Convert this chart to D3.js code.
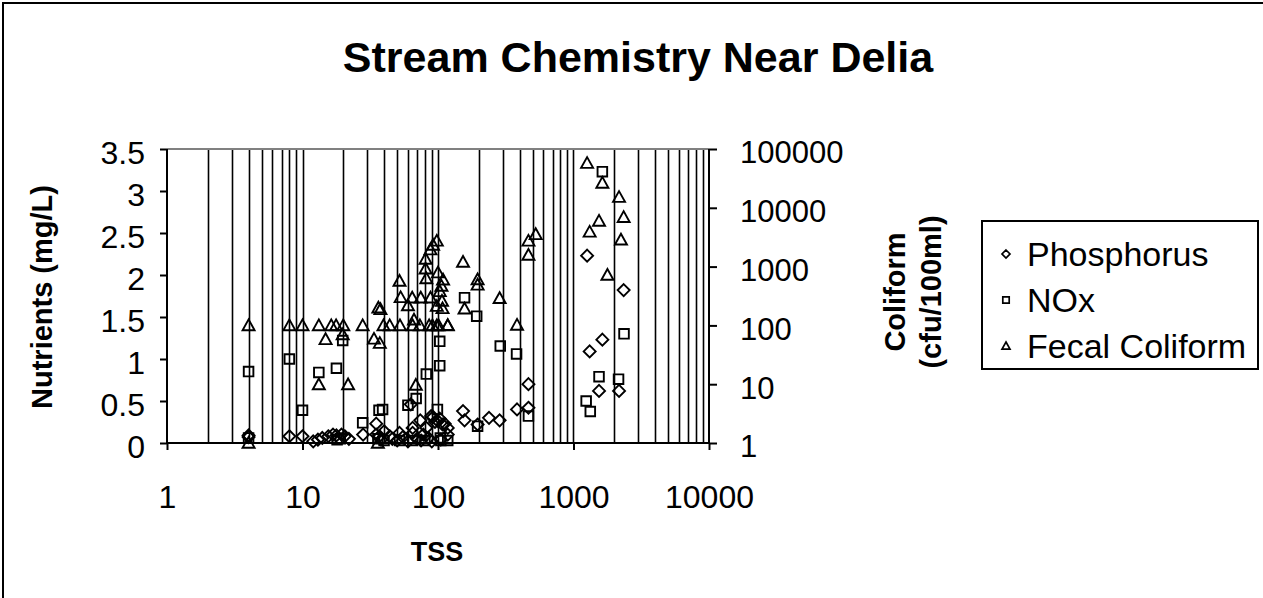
<!DOCTYPE html>
<html><head><meta charset="utf-8">
<script src="https://cdn.jsdelivr.net/npm/d3@7"></script>
<style>
html,body{margin:0;padding:0;background:#fff;}
svg{display:block;font-family:"Liberation Sans",Arial,sans-serif;}
</style></head>
<body>
<svg id="c" width="1263" height="598"></svg>
<script>
// ---- data (TSS, value) ----
const phosphorus = [
 [4,0.07],[4,0.09],[8,0.08],[10,0.08],[12,0.02],[13,0.04],[14,0.06],[15.5,0.08],[16.8,0.10],[17.8,0.09],
 [19.4,0.10],[20.5,0.08],[22,0.05],[28,0.10],[35,0.23],[35,0.10],[37,0.08],[38,0.04],[40,0.14],[44,0.08],
 [46,0.05],[50,0.03],[52,0.12],[55,0.07],[60,0.02],[63,0.46],[65,0.18],[65,0.12],[70,0.05],[74,0.27],
 [75,0.03],[78,0.10],[82,0.18],[85,0.06],[89,0.32],[90,0.02],[92,0.31],[95,0.25],[100,0.26],[103,0.29],
 [105,0.04],[108,0.22],[112,0.23],[118,0.18],[118,0.10],[153,0.38],[157,0.27],[196,0.22],[238,0.30],
 [285,0.27],[383,0.40],[465,0.42],[465,0.70],[1260,2.23],[1316,1.09],[1543,0.62],[1633,1.23],[2168,0.62],[2345,1.82]
];
const nox = [
 [4,0.85],[4,0.06],[8,1.0],[10,0.39],[13.2,0.84],[17.8,0.89],[19.8,1.22],[18,0.04],[19,0.05],[27.8,0.24],
 [36.7,0.39],[39,0.40],[36,0.05],[40,0.03],[52,0.03],[60,0.45],[69,0.53],[65,0.03],[82,0.82],[80,0.03],
 [99,0.40],[103,1.21],[103,0.92],[104,0.06],[105,0.03],[118,0.03],[157,1.73],[193,1.51],[196,0.20],
 [288,1.155],[380,1.06],[465,0.32],[1240,0.50],[1330,0.375],[1543,0.79],[1633,3.23],[2150,0.76],[2360,1.30]
];
const coliform = [
 [4,100],[8,100],[10,100],[13.2,100],[16.3,100],[17.7,100],[20,100],[27.8,100],[39.6,100],[44,100],
 [52.4,100],[65,100],[73.5,100],[86,100],[91,100],[98,100],[101,100],[118,100],
 [14.8,58],[19.8,70],[13.2,9.9],[21.7,9.9],[4,1],[36,1],[33.7,59],[37.2,50],[36.3,200],[37.6,188],
 [68.6,9.7],[52,570],[53,300],[60,218],[64.5,295],[74.6,295],[88,295],[66.5,125],[81,1350],[81,920],
 [82,630],[88,1950],[92,2330],[98,2740],[100,790],[109,600],[106,470],[103,380],[107,260],[108,195],
 [98,213],[153,1200],[157,192],[196,605],[196,490],[118,101],[285,290],[383,102],[465,1580],[465,2740],
 [526,3540],[1260,57600],[1316,3900],[1543,5990],[1633,26500],[1780,720],[2168,15200],[2240,2860],[2345,6940]
];
const leftTicks = [0,0.5,1,1.5,2,2.5,3,3.5];
const rightTicks = [1,10,100,1000,10000,100000];
const xTicks = [1,10,100,1000,10000];
const seriesNames = ["Phosphorus","NOx","Fecal Coliform"];

// ---- layout ----
const svg = d3.select("#c");
const L = 167, R = 709, T = 149, B = 443;
const x = d3.scaleLog().domain([1,10000]).range([L,R]);
const yL = d3.scaleLinear().domain([0,3.5]).range([B,T]);
const yR = d3.scaleLog().domain([1,100000]).range([B,T]);

// outer frame
svg.append("rect").attr("x",3).attr("y",3).attr("width",1400).attr("height",800)
  .attr("fill","none").attr("stroke","#000").attr("stroke-width",2);

// title
svg.append("text").attr("x",638).attr("y",72).attr("text-anchor","middle")
  .attr("font-size",43).attr("font-weight","bold").text("Stream Chemistry Near Delia");

// vertical gridlines at log minor positions
const grid = x.ticks().filter(v => v > 1 && v < 10000);
svg.append("g").selectAll("line").data(grid).join("line")
  .attr("x1",d=>Math.round(x(d))+0.5).attr("x2",d=>Math.round(x(d))+0.5)
  .attr("y1",T).attr("y2",B).attr("stroke","#000").attr("stroke-width",1.6);

// top border of plot
svg.append("line").attr("x1",L).attr("x2",R).attr("y1",T).attr("y2",T)
  .attr("stroke","#808080").attr("stroke-width",2);

// axes
const fmtL = d => d===0?"0":String(d);
const gL = svg.append("g").attr("transform",`translate(${L},0)`)
  .call(d3.axisLeft(yL).tickValues(leftTicks).tickSize(7).tickPadding(15).tickFormat(fmtL));
const gB = svg.append("g").attr("transform",`translate(0,${B})`)
  .call(d3.axisBottom(x).tickValues(xTicks).tickSize(7).tickPadding(35).tickFormat(d3.format("d")));
const gR = svg.append("g").attr("transform",`translate(${R},0)`)
  .call(d3.axisRight(yR).tickValues(rightTicks).tickSize(8).tickPadding(23).tickFormat(d3.format("d")));
[gL,gB,gR].forEach(g=>{
  g.select(".domain").attr("stroke","#000").attr("stroke-width",2);
  g.selectAll(".tick line").attr("stroke","#000").attr("stroke-width",2);
  g.selectAll("text").attr("font-size",32).attr("fill","#000").attr("font-family","Liberation Sans, Arial, sans-serif");
});
gR.selectAll("text").attr("font-size",31);
gL.selectAll("text").attr("dy","0.45em");
gR.selectAll("text").attr("dy","0.45em");
gL.select(".domain").attr("d",`M0,${T}V${B}`);
gB.select(".domain").attr("d",`M${L},0H${R}`);
gR.select(".domain").attr("d",`M0,${T}V${B}`);

// axis titles
svg.append("text").attr("transform","translate(52,297) rotate(-90)").attr("text-anchor","middle")
  .attr("font-size",29).attr("font-weight","bold").text("Nutrients (mg/L)");
svg.append("text").attr("x",437).attr("y",561).attr("text-anchor","middle")
  .attr("font-size",27).attr("font-weight","bold").text("TSS");
svg.append("text").attr("transform","translate(905,292) rotate(-90)").attr("text-anchor","middle")
  .attr("font-size",29).attr("font-weight","bold").text("Coliform");
svg.append("text").attr("transform","translate(941,292) rotate(-90)").attr("text-anchor","middle")
  .attr("font-size",29).attr("font-weight","bold").text("(cfu/100ml)");

// markers
const shapes = {
  diamond: s => `M0,${-s}L${s},0L0,${s}L${-s},0Z`,
  square: s => `M${-s*0.8},${-s*0.8}H${s*0.8}V${s*0.8}H${-s*0.8}Z`,
  triangle: s => `M0,${-s}L${s},${s*0.8}H${-s}Z`
};
function plot(data, yScale, shape){
  svg.append("g").selectAll("path").data(data).join("path")
    .attr("transform",d=>`translate(${x(d[0])},${yScale(d[1])})`)
    .attr("d",shapes[shape](6)).attr("fill","none").attr("stroke","#000").attr("stroke-width",1.9);
}
plot(phosphorus, yL, "diamond");
plot(nox, yL, "square");
plot(coliform, yR, "triangle");

// legend
const lg = svg.append("g");
lg.append("rect").attr("x",982).attr("y",221).attr("width",276).attr("height",148)
  .attr("fill","#fff").attr("stroke","#000").attr("stroke-width",2);
const legShapes = ["diamond","square","triangle"];
seriesNames.forEach((n,i)=>{
  const cy = 254 + i*46;
  lg.append("path").attr("transform",`translate(1006,${cy})`).attr("d",shapes[legShapes[i]](4))
    .attr("fill","none").attr("stroke","#000").attr("stroke-width",1.7);
  lg.append("text").attr("x",1027).attr("y",cy+12).attr("font-size",34).text(n);
});
</script>
</body></html>
